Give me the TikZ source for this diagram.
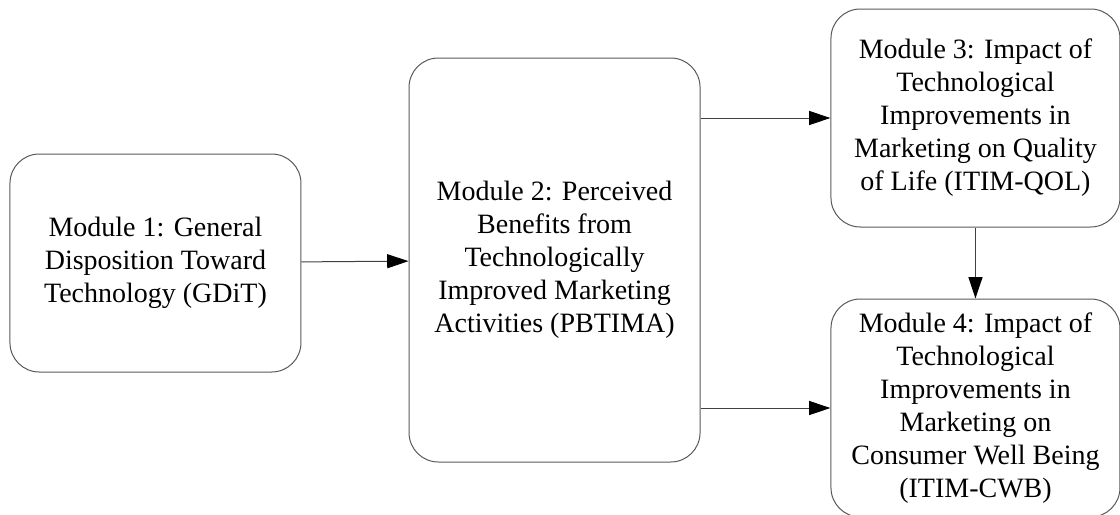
\documentclass[tikz,border=0pt]{standalone}
\usepackage{fontspec}
\setmainfont{Liberation Serif}
\usetikzlibrary{arrows.meta}
\usetikzlibrary{positioning}

\begin{document}
\begin{tikzpicture}
      \tikzstyle{every node}=[font=\fontsize{21}{24.75}\selectfont,align=center]
      \tikzstyle{module}=[draw=black!65,line width=0.75pt,rounded corners=22pt,inner sep=2pt]
      \tikzstyle{flow}=[draw=black!75,line width=0.75pt,-{Triangle[length=16pt,width=10.5pt,color=black,fill=black]}]
      \useasboundingbox (0,0) rectangle (840pt,-385.5pt);

      \node[module,minimum width=218.25pt,minimum height=163.5pt] (gdit)   at (116.6pt,-197.25pt) {Module 1: General\\Disposition Toward\\Technology (GDiT)};
      \node[module,minimum width=218.25pt,minimum height=303pt]   (pbtima) at (415.9pt,-195pt)    {Module 2: Perceived\\Benefits from\\Technologically\\Improved Marketing\\Activities (PBTIMA)};
      \node[module,minimum width=216.75pt,minimum height=163.5pt] (qol)    at (731.6pt,-88.5pt)   {Module 3: Impact of\\Technological\\Improvements in\\Marketing on Quality\\of Life (ITIM-QOL)};
      \node[module,minimum width=216.75pt,minimum height=163.5pt] (cwb)    at (731.6pt,-306pt)    {Module 4: Impact of\\Technological\\Improvements in\\Marketing on\\Consumer Well Being\\(ITIM-CWB)};

      \draw[flow] (gdit) -- (pbtima);
      \draw[flow] (pbtima.east |- qol.west) -- (qol.west);
      \draw[flow] (pbtima.east |- cwb.west) -- (cwb.west);
      \draw[flow] (qol) -- (cwb);
\end{tikzpicture}
\end{document}
